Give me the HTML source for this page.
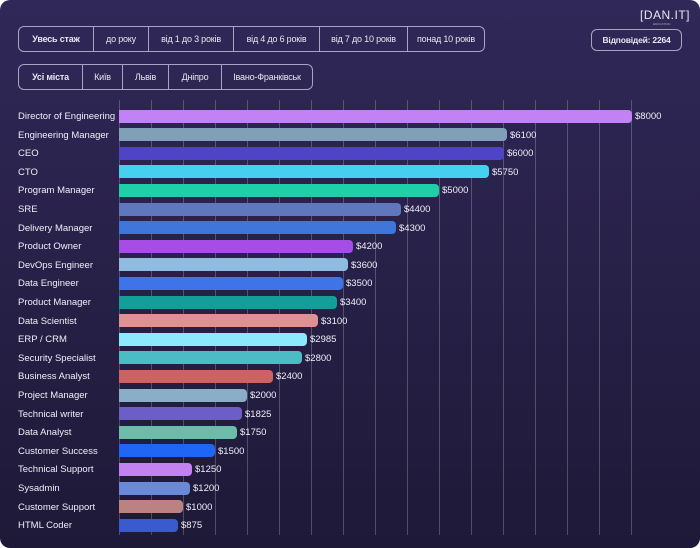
<!DOCTYPE html>
<html><head><meta charset="utf-8"><style>
body{margin:0;background:#fff;width:700px;height:548px;overflow:hidden;font-family:"Liberation Sans",sans-serif}
.card{position:absolute;left:0;top:0;width:700px;height:548px;border-radius:10px;background:linear-gradient(#302858,#1e1937);overflow:hidden}
.grp{position:absolute;height:26px;border:1px solid #a9a4c4;border-radius:6px;display:flex;color:#e8e6f2;font-size:9px;box-sizing:border-box;letter-spacing:-0.2px}
.grp div{border-right:1px solid #a9a4c4;display:flex;align-items:center;justify-content:center;height:100%}
.grp div:last-child{border-right:none}
.b{font-weight:bold}
.g{position:absolute;top:100px;height:435px;width:1px;background:rgba(255,255,255,0.22)}
.lab{position:absolute;left:18px;color:#f0eef8;font-size:9.5px;line-height:12px}
.bar{position:absolute;left:119px;height:13px;border-radius:0 4px 4px 0}
.v{position:absolute;color:#f0eef8;font-size:9.5px;line-height:12px}
</style></head><body><div class="card">
<div style="position:absolute;left:640px;top:8px;color:#e8e6f2;font-size:12px;letter-spacing:0.5px">[DAN.IT]</div>
<div style="position:absolute;left:653px;top:22px;color:#aaa;font-size:3px">EDUCATION</div>
<div class="grp" style="left:18px;top:26px;width:467px">
<div class="b" style="width:74px">Увесь стаж</div><div style="width:54px">до року</div><div style="width:84px">від 1 до 3 років</div><div style="width:85px">від 4 до 6 років</div><div style="width:87px">від 7 до 10 років</div><div style="flex:1">понад 10 років</div></div>
<div class="grp b" style="left:591px;top:29px;width:91px;height:22px;font-size:8.5px">
<div style="width:100%">Відповідей: 2264</div></div>
<div class="grp" style="left:18px;top:64px;width:295px">
<div class="b" style="width:63px">Усі міста</div><div style="width:39px">Київ</div><div style="width:45px">Львів</div><div style="width:52px">Дніпро</div><div style="flex:1">Івано-Франківськ</div></div>
<div id="gr"></div>
<div id="rows"></div>
</div>
<script>
var gr='';for(var i=0;i<17;i++){gr+='<div class="g" style="left:'+(119+i*32)+'px"></div>';}
document.getElementById('gr').innerHTML=gr;
var d=[["Director of Engineering",632,"#c282f5","$8000"],["Engineering Manager",507,"#80a0b8","$6100"],["CEO",504,"#4f44c6","$6000"],["CTO",489,"#44d0ee","$5750"],["Program Manager",439,"#1ecfa8","$5000"],["SRE",401,"#5f78bd","$4400"],["Delivery Manager",396,"#3f76da","$4300"],["Product Owner",353,"#a54de6","$4200"],["DevOps Engineer",348,"#8fbbe0","$3600"],["Data Engineer",343,"#3f73ea","$3500"],["Product Manager",337,"#149e9a","$3400"],["Data Scientist",318,"#e09090","$3100"],["ERP / CRM",307,"#8ce8fc","$2985"],["Security Specialist",302,"#4bbbc4","$2800"],["Business Analyst",273,"#cc6262","$2400"],["Project Manager",247,"#8aaec8","$2000"],["Technical writer",242,"#6b5ec6","$1825"],["Data Analyst",237,"#6cbcaa","$1750"],["Customer Success",215,"#1f66f6","$1500"],["Technical Support",192,"#c282f0","$1250"],["Sysadmin",190,"#6a8ad8","$1200"],["Customer Support",183,"#bc8282","$1000"],["HTML Coder",178,"#3c5ad0","$875"]];
var h='';for(var i=0;i<d.length;i++){var c=116+i*18.6;
h+='<div class="lab" style="top:'+(c-5)+'px">'+d[i][0]+'</div>';
h+='<div class="bar" style="top:'+(c-6.5)+'px;width:'+(d[i][1]-119)+'px;background:'+d[i][2]+'"></div>';
h+='<div class="v" style="top:'+(c-5)+'px;left:'+(d[i][1]+3)+'px">'+d[i][3]+'</div>';}
document.getElementById('rows').innerHTML=h;
</script>
</body></html>
